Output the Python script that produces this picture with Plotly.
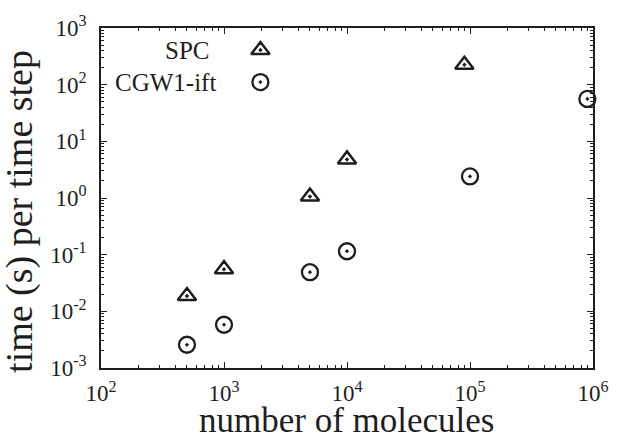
import plotly.graph_objects as go

# Timing data: seconds per time step versus system size
spc_molecules = [500, 1000, 5000, 10000, 90000]
spc_time = [0.0186, 0.0555, 1.06, 4.8, 225]

cgw_molecules = [500, 1000, 5000, 10000, 100000, 900000]
cgw_time = [0.00257, 0.0058, 0.049, 0.115, 2.4, 56]

x_tick_vals = [1e2, 1e3, 1e4, 1e5, 1e6]
x_tick_text = ["10<sup>2</sup>", "10<sup>3</sup>", "10<sup>4</sup>", "10<sup>5</sup>", "10<sup>6</sup>"]
y_tick_vals = [1e-3, 1e-2, 1e-1, 1e0, 1e1, 1e2, 1e3]
y_tick_text = ["10<sup>-3</sup>", "10<sup>-2</sup>", "10<sup>-1</sup>", "10<sup>0</sup>",
               "10<sup>1</sup>", "10<sup>2</sup>", "10<sup>3</sup>"]

series_names = ["SPC", "CGW1-ift"]

INK = "#1e1e1e"
FONT = "Liberation Serif, Times New Roman, serif"

x_minor = [m * 10 ** e for e in range(2, 6) for m in range(2, 10)]
y_minor = [m * 10.0 ** e for e in range(-3, 3) for m in range(2, 10)]

tri_marker = dict(symbol="triangle-up-open-dot", size=16, color=INK, line=dict(width=2.5, color=INK))
circ_marker = dict(symbol="circle-open-dot", size=16, color=INK, line=dict(width=2.3, color=INK))

fig = go.Figure()
fig.add_trace(go.Scatter(x=spc_molecules, y=spc_time, mode="markers", marker=tri_marker,
                         name=series_names[0], showlegend=False, cliponaxis=False))
fig.add_trace(go.Scatter(x=cgw_molecules, y=cgw_time, mode="markers", marker=circ_marker,
                         name=series_names[1], showlegend=False, cliponaxis=False))

# Key drawn inside the plot box on an overlay axis pair spanning [0, 1]
key_x = 0.324
key_y = [0.935, 0.841]
fig.add_trace(go.Scatter(x=[key_x], y=[key_y[0]], mode="markers", marker=tri_marker,
                         xaxis="x2", yaxis="y2", showlegend=False, hoverinfo="skip"))
fig.add_trace(go.Scatter(x=[key_x], y=[key_y[1]], mode="markers", marker=circ_marker,
                         xaxis="x2", yaxis="y2", showlegend=False, hoverinfo="skip"))

axis_common = dict(
    showgrid=False, zeroline=False, showline=True, linecolor=INK, linewidth=1.6,
    mirror="ticks", ticks="inside", ticklen=6, tickwidth=1.2, tickcolor=INK,
    tickfont=dict(family=FONT, size=23, color=INK),
)

fig.update_layout(
    width=621, height=441,
    margin=dict(l=101, r=17, t=19, b=73),
    paper_bgcolor="white", plot_bgcolor="white",
    xaxis=dict(type="log", range=[2, 6], tickmode="array", tickvals=x_tick_vals, ticktext=x_tick_text,
               minor=dict(tickmode="array", tickvals=x_minor, ticks="inside", ticklen=3,
                          tickwidth=1, tickcolor=INK),
               ticklabelstandoff=4, **axis_common),
    yaxis=dict(type="log", range=[-3, 3], tickmode="array", tickvals=y_tick_vals, ticktext=y_tick_text,
               minor=dict(tickmode="array", tickvals=y_minor, ticks="inside", ticklen=3,
                          tickwidth=1, tickcolor=INK),
               ticklabelstandoff=8, **axis_common),
    xaxis2=dict(overlaying="x", range=[0, 1], visible=False, fixedrange=True),
    yaxis2=dict(overlaying="y", range=[0, 1], visible=False, fixedrange=True),
    annotations=[
        dict(text=series_names[0], xref="x2", yref="y2", x=0.224, y=key_y[0], xanchor="right",
             yanchor="middle", showarrow=False, font=dict(family=FONT, size=25, color=INK)),
        dict(text=series_names[1], xref="x2", yref="y2", x=0.238, y=key_y[1], xanchor="right",
             yanchor="middle", showarrow=False, font=dict(family=FONT, size=25, color=INK)),
        dict(text="number of molecules", xref="paper", yref="paper", x=0.498, y=-0.09,
             xanchor="center", yanchor="top", showarrow=False,
             font=dict(family=FONT, size=35, color=INK)),
        dict(text="time (s) per time step", xref="paper", yref="paper", x=-0.166, y=0.46,
             xanchor="center", yanchor="middle", textangle=-90, showarrow=False,
             font=dict(family=FONT, size=38, color=INK)),
    ],
)

fig.write_html("out.html")
